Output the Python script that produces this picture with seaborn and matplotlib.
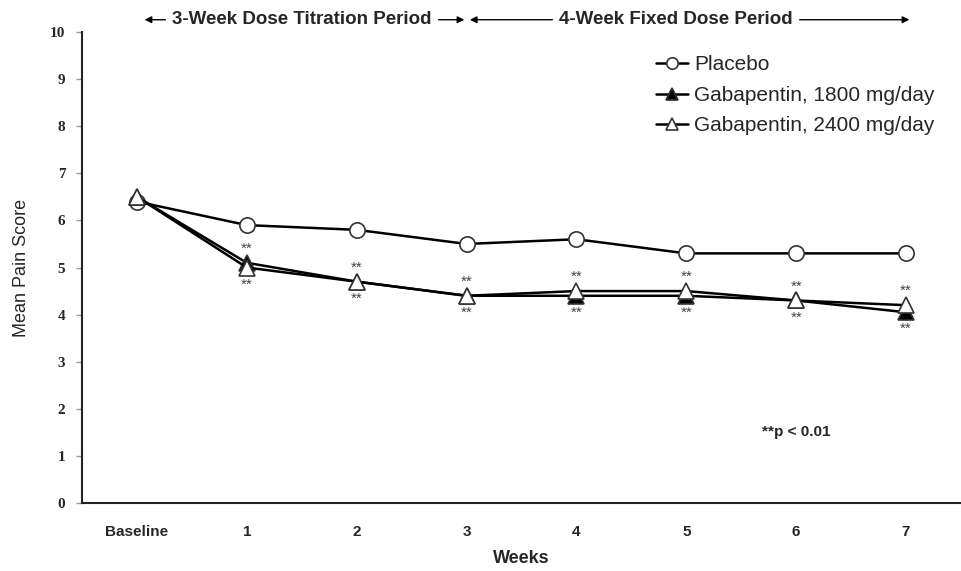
import matplotlib
matplotlib.use("Agg")
import matplotlib.pyplot as plt
import seaborn as sns
import pandas as pd

# chart values
weeks = [0, 1, 2, 3, 4, 5, 6, 7]
week_labels = ["Baseline", "1", "2", "3", "4", "5", "6", "7"]
placebo = [6.4, 5.9, 5.8, 5.5, 5.6, 5.3, 5.3, 5.3]
gaba_1800 = [6.5, 5.1, 4.7, 4.4, 4.4, 4.4, 4.3, 4.05]
gaba_2400 = [6.5, 5.0, 4.7, 4.4, 4.5, 4.5, 4.3, 4.2]
y_ticks = list(range(0, 11))

sns.set_theme(style="white")
plt.rcParams['font.family'] = ['Liberation Sans', 'DejaVu Sans']

fig = plt.figure(figsize=(9.61, 5.71), dpi=100)
ax = fig.add_axes([0.0853, 0.119, 0.9147, 0.825])

series = [
    ("Placebo", placebo, "o", "white"),
    ("Gabapentin, 1800 mg/day", gaba_1800, "^", "black"),
    ("Gabapentin, 2400 mg/day", gaba_2400, "^", "white"),
]
for name, vals, mk, fc in series:
    df = pd.DataFrame({"week": weeks, "score": vals})
    sns.lineplot(data=df, x="week", y="score", ax=ax, color="black", lw=1.8,
                 marker=mk, markersize=11, markerfacecolor=fc,
                 markeredgecolor="#333333", markeredgewidth=1.2, label=name)

# significance stars above and below the gabapentin points
for w, a, b in zip(weeks[1:], gaba_1800[1:], gaba_2400[1:]):
    ax.text(w, max(a, b) + 0.3, "**", ha="center", va="center", fontsize=11, color="#444444")
    ax.text(w, min(a, b) - 0.36, "**", ha="center", va="center", fontsize=11, color="#444444")

ax.text(6.0, 1.5, "**p < 0.01", ha="center", va="center", fontsize=11, fontweight="bold")

ax.set_xlim(-0.5, 7.5)
ax.set_ylim(0, 10)
ax.set_xticks(weeks)
ax.set_xticklabels(week_labels, fontsize=11, fontweight="bold")
ax.set_yticks(y_ticks)
ax.set_yticklabels([str(t) for t in y_ticks], fontsize=11, fontweight="bold",
                   family=["Liberation Serif"])
ax.tick_params(axis="y", which="major", left=True, length=4, width=1, color="#999999", pad=8)
ax.tick_params(axis="x", bottom=False, pad=10)
ax.set_xlabel("Weeks", fontsize=13, fontweight="bold", labelpad=8)
ax.set_ylabel("Mean Pain Score", fontsize=13, labelpad=14)
for s in ["top", "right"]:
    ax.spines[s].set_visible(False)
for s in ["left", "bottom"]:
    ax.spines[s].set_color("#222222")
    ax.spines[s].set_linewidth(1.5)

# period arrows above the plot
arrow_y = 10.26
ax.annotate("", xy=(0.07, arrow_y), xytext=(2.98, arrow_y), annotation_clip=False,
            arrowprops=dict(arrowstyle="<|-|>", color="black", lw=1, mutation_scale=10,
                            shrinkA=0, shrinkB=0))
ax.annotate("", xy=(3.03, arrow_y), xytext=(7.03, arrow_y), annotation_clip=False,
            arrowprops=dict(arrowstyle="<|-|>", color="black", lw=1, mutation_scale=10,
                            shrinkA=0, shrinkB=0))
ax.text(1.5, arrow_y, "3-Week Dose Titration Period", ha="center", va="center",
        fontsize=13.5, fontweight="bold", backgroundcolor="white", clip_on=False)
ax.text(4.9, arrow_y, "4-Week Fixed Dose Period", ha="center", va="center",
        fontsize=13.5, fontweight="bold", backgroundcolor="white", clip_on=False)

leg = ax.legend(loc="upper left", bbox_to_anchor=(0.632, 0.99), frameon=False,
                fontsize=15, handlelength=1.5, handletextpad=0.3, labelspacing=0.55,
                markerscale=0.75)

fig.savefig("out.png", dpi=100)
